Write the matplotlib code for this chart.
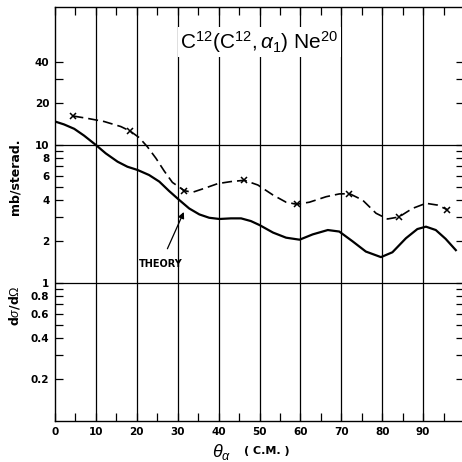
import numpy as np
import matplotlib
matplotlib.use("Agg")
import matplotlib.pyplot as plt
from matplotlib.ticker import FixedLocator, NullFormatter

plt.rcParams["mathtext.fontset"] = "custom"
plt.rcParams["mathtext.rm"] = "Liberation Sans"
plt.rcParams["mathtext.it"] = "Liberation Sans:italic"
plt.rcParams["mathtext.bf"] = "Liberation Sans:bold"

# theory curve
theory_x = [0, 2.2, 4.7, 7.1, 10.0, 12.4, 15.3, 17.7, 20.2, 23.0, 25.5, 27.9,
            30.4, 32.8, 35.3, 37.7, 40.2, 43.0, 45.5, 47.9, 50.0, 53.3, 56.5,
            59.8, 63.0, 66.7, 69.5, 72.8, 76.0, 79.7, 82.5, 85.8, 88.6, 90.7,
            93.1, 95.5, 98.0]
theory_y = [14.8, 14.1, 13.1, 11.7, 10.0, 8.7, 7.57, 6.96, 6.59, 6.06, 5.43,
            4.64, 3.99, 3.47, 3.14, 2.97, 2.91, 2.94, 2.94, 2.81, 2.63, 2.32,
            2.13, 2.06, 2.25, 2.42, 2.36, 2.0, 1.69, 1.54, 1.67, 2.11, 2.46,
            2.56, 2.42, 2.09, 1.73]

# measured points (x markers)
meas_x = [4.5, 18.4, 31.6, 46.3, 59.1, 72.0, 84.1, 95.9]
meas_y = [16.2, 12.6, 4.67, 5.55, 3.72, 4.44, 3.01, 3.40]

# dashed curve drawn through the measured points
dash_x = [4.5, 7.9, 12.0, 16.1, 18.4, 20.6, 22.6, 24.7, 26.7, 28.7, 31.6,
          33.6, 36.5, 39.8, 43.0, 46.3, 49.6, 53.3, 56.5, 59.1, 62.2, 66.3,
          69.5, 72.0, 75.2, 78.5, 81.3, 84.1, 87.4, 90.7, 93.5, 95.9]
dash_y = [16.2, 15.6, 14.8, 13.6, 12.6, 11.3, 9.7, 8.0, 6.48, 5.36, 4.67,
          4.54, 4.85, 5.25, 5.43, 5.55, 5.13, 4.34, 3.85, 3.72, 3.85, 4.22,
          4.42, 4.44, 3.99, 3.2, 2.91, 3.01, 3.47, 3.78, 3.67, 3.40]

y_labeled = [0.2, 0.4, 0.6, 0.8, 1, 2, 4, 6, 8, 10, 20, 40]
y_labels = ["0.2", "0.4", "0.6", "0.8", "1", "2", "4", "6", "8", "10", "20", "40"]
y_minor = [0.3, 0.5, 0.7, 0.9, 3, 5, 7, 9, 30]
x_major = list(range(0, 100, 10))

W, H = 462, 462
fig = plt.figure(figsize=(W / 100, H / 100), dpi=100)
ax = fig.add_axes([55 / W, 41 / H, 409 / W, 414 / H])
ax.set_yscale("log")
ax.set_xlim(0, 100)
ax.set_ylim(0.1, 100)

# grid
for xv in x_major[1:]:
    ax.axvline(xv, color="black", lw=0.9, zorder=1)
for yv in [1, 10]:
    ax.axhline(yv, color="black", lw=0.9, zorder=1)

ax.plot(theory_x, theory_y, color="black", lw=1.6, zorder=3,
        solid_joinstyle="round")
ax.plot(dash_x, dash_y, color="black", lw=1.2, ls=(0, (6, 3)), zorder=3)
ax.plot(meas_x, meas_y, ls="none", marker="x", ms=5, mew=1.1, color="black", zorder=4)

# ticks
ax.yaxis.set_major_locator(FixedLocator(y_labeled))
ax.set_yticklabels(y_labels)
ax.yaxis.set_minor_locator(FixedLocator(y_minor))
ax.yaxis.set_minor_formatter(NullFormatter())
ax.set_xticks(x_major)
ax.xaxis.set_minor_locator(FixedLocator(list(range(5, 100, 10))))
ax.tick_params(axis="both", which="both", direction="in", length=6, width=0.9,
               top=True, right=True, labelsize=7.5, pad=4)
for lab in ax.get_xticklabels() + ax.get_yticklabels():
    lab.set_fontweight("bold")
for s in ax.spines.values():
    s.set_linewidth(1.0)

# title box
ax.text(50, 56, r"$\mathrm{C}^{12}(\mathrm{C}^{12},\alpha_{1})\ \mathrm{Ne}^{20}$",
        fontsize=15, ha="center", va="center", zorder=5,
        bbox=dict(facecolor="white", edgecolor="none", pad=1.5))

# theory annotation
ax.annotate("THEORY", xy=(31.5, 3.27), xytext=(25.8, 1.37), fontsize=7,
            fontweight="bold", ha="center", va="center", zorder=5,
            arrowprops=dict(arrowstyle="-|>", color="black", lw=0.9,
                            shrinkA=6, shrinkB=0, mutation_scale=9))

fig.text(15 / W, 1 - 177 / H, "mb/sterad.", rotation=90,
         fontsize=9, fontweight="bold", ha="center", va="center")
fig.text(15 / W, 1 - 306 / H, r"d$\sigma$/d$\Omega$", rotation=90,
         fontsize=9, fontweight="bold", ha="center", va="center")
fig.text(222 / W, 1 - 452 / H, r"$\theta_\alpha$", fontsize=13,
         ha="center", va="center")
fig.text(267 / W, 1 - 451 / H, "( C.M. )", fontsize=8, fontweight="bold",
         ha="center", va="center")

fig.savefig("out.png", dpi=100)
